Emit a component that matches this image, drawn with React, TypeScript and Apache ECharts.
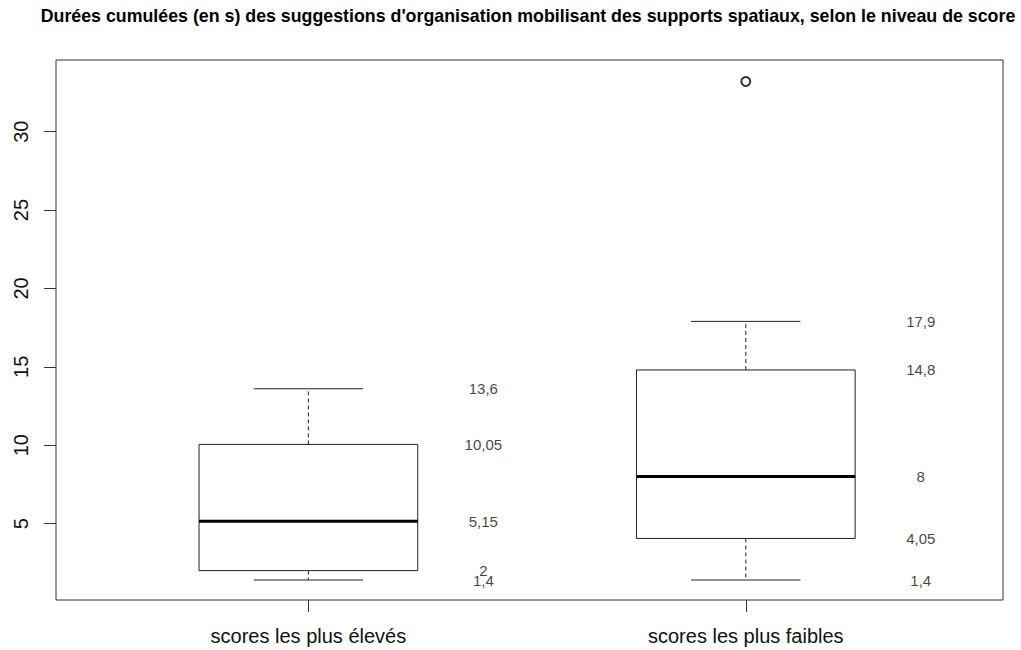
import React, { useEffect, useRef } from "react";
import * as echarts from "echarts";

const TITLE =
  "Durées cumulées (en s) des suggestions d'organisation mobilisant des supports spatiaux, selon le niveau de score";
const categories = ["scores les plus élevés", "scores les plus faibles"];
const positions = [1, 2];
const mins = [1.4, 1.4];
const q1s = [2, 4.05];
const medians = [5.15, 8];
const q3s = [10.05, 14.8];
const maxs = [13.6, 17.9];
const outliers: number[][] = [[2, 33.2]];
const yTicks = [5, 10, 15, 20, 25, 30];
const LABEL_SHIFT = 0.4;

const FONT = "Liberation Sans, Arial, Helvetica, sans-serif";

export default function App() {
  const ref = useRef<HTMLDivElement>(null);
  useEffect(() => {
    if (!ref.current) return;
    const chart = echarts.init(ref.current, null, { renderer: "svg" });

    const boxData = positions.map((p, i) => [p, mins[i], q1s[i], medians[i], q3s[i], maxs[i]]);
    const labelData: any[] = [];
    positions.forEach((p, i) => {
      [maxs[i], q3s[i], medians[i], q1s[i], mins[i]].forEach((v) => {
        labelData.push([p + LABEL_SHIFT, v]);
      });
    });

    const renderItem = (params: any, api: any) => {
      const x = api.value(0);
      const vMin = api.value(1);
      const vQ1 = api.value(2);
      const vMed = api.value(3);
      const vQ3 = api.value(4);
      const vMax = api.value(5);
      const halfW = api.size([0.25, 0])[0];
      const capW = halfW / 2;
      const pMin = api.coord([x, vMin]);
      const pQ1 = api.coord([x, vQ1]);
      const pMed = api.coord([x, vMed]);
      const pQ3 = api.coord([x, vQ3]);
      const pMax = api.coord([x, vMax]);
      const cx = pMed[0];
      const stroke = "#222";
      return {
        type: "group",
        children: [
          {
            type: "line",
            shape: { x1: cx, y1: pQ3[1], x2: cx, y2: pMax[1] },
            style: { stroke, lineWidth: 1, lineDash: [4, 3] },
          },
          {
            type: "line",
            shape: { x1: cx, y1: pQ1[1], x2: cx, y2: pMin[1] },
            style: { stroke, lineWidth: 1, lineDash: [4, 3] },
          },
          {
            type: "line",
            shape: { x1: cx - capW, y1: pMax[1], x2: cx + capW, y2: pMax[1] },
            style: { stroke, lineWidth: 1 },
          },
          {
            type: "line",
            shape: { x1: cx - capW, y1: pMin[1], x2: cx + capW, y2: pMin[1] },
            style: { stroke, lineWidth: 1 },
          },
          {
            type: "rect",
            shape: { x: cx - halfW, y: pQ3[1], width: halfW * 2, height: pQ1[1] - pQ3[1] },
            style: { fill: "#fff", stroke, lineWidth: 1 },
          },
          {
            type: "line",
            shape: { x1: cx - halfW, y1: pMed[1], x2: cx + halfW, y2: pMed[1] },
            style: { stroke: "#000", lineWidth: 3 },
          },
        ],
      };
    };

    chart.setOption({
      animation: false,
      backgroundColor: "#fff",
      textStyle: { fontFamily: FONT },
      graphic: [
        {
          type: "text",
          x: 528,
          y: 16,
          style: {
            text: TITLE,
            font: `bold 17.8px ${FONT}`,
            fill: "#000",
            textAlign: "center",
            textVerticalAlign: "middle",
          },
        },
      ],
      grid: {
        show: true,
        left: 56,
        right: 18,
        top: 60,
        bottom: 50,
        borderColor: "#333",
        borderWidth: 1,
        backgroundColor: "transparent",
      },
      xAxis: {
        type: "value",
        min: 0.423,
        max: 2.588,
        axisLine: { show: false },
        splitLine: { show: false },
        axisTick: {
          show: true,
          customValues: positions,
          length: 12,
          lineStyle: { color: "#333" },
        },
        axisLabel: {
          customValues: positions,
          formatter: (v: number) => categories[Math.round(v) - 1] ?? "",
          color: "#111",
          fontSize: 20,
          fontFamily: FONT,
          margin: 26,
        },
      },
      yAxis: {
        type: "value",
        min: 0.124,
        max: 34.576,
        axisLine: { show: false },
        splitLine: { show: false },
        axisTick: {
          show: true,
          customValues: yTicks,
          length: 12,
          lineStyle: { color: "#333" },
        },
        axisLabel: {
          customValues: yTicks,
          rotate: 90,
          color: "#111",
          fontSize: 20,
          fontFamily: FONT,
          margin: 25,
        },
      },
      series: [
        {
          type: "custom",
          renderItem,
          data: boxData,
          encode: { x: 0, y: [1, 2, 3, 4, 5] },
          silent: true,
        },
        {
          type: "scatter",
          data: outliers,
          symbol: "emptyCircle",
          symbolSize: 9,
          itemStyle: { color: "#000", borderColor: "#000", borderWidth: 1 },
          silent: true,
        },
        {
          type: "scatter",
          data: labelData,
          symbolSize: 0,
          silent: true,
          label: {
            show: true,
            position: "inside",
            formatter: (p: any) => String(p.value[1]).replace(".", ","),
            color: "#111",
            fontSize: 15,
            fontFamily: FONT,
          },
        },
      ],
    });
    return () => chart.dispose();
  }, []);
  return (
    <div
      ref={ref}
      style={{ position: "fixed", left: 0, top: 0, width: 1021, height: 650, background: "#fff" }}
    />
  );
}
